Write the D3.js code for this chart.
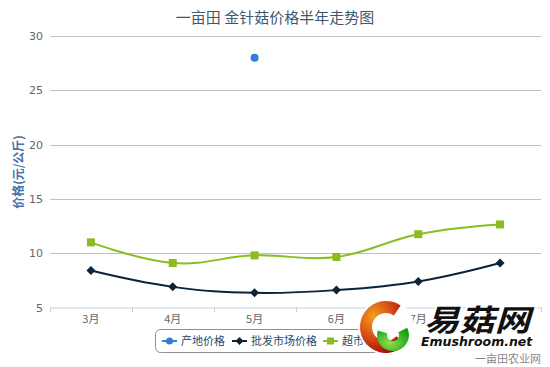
<!DOCTYPE html>
<html><head><meta charset="utf-8">
<script src="https://cdn.jsdelivr.net/npm/d3@7"></script>
<style>body{margin:0;background:#fff;}svg{display:block;font-family:"Noto Sans CJK SC","DejaVu Sans",sans-serif;}</style>
</head><body>
<svg id="c" width="550" height="367"></svg>
<script>
const months = ["3月","4月","5月","6月","7月","8月"];
const originPrice = [null,null,28,null,null,null];
const wholesalePrice = [8.4,6.9,6.35,6.6,7.4,9.1];
const supermarketPrice = [11,9.1,9.8,9.65,11.75,12.65];
const seriesNames = ["产地价格","批发市场价格","超市价格"];
const seriesColors = ["#2f7ed8","#0d233a","#8bbc21"];
const yTicks = [5,10,15,20,25,30];
const title = "一亩田 金针菇价格半年走势图";
const yTitle = "价格(元/公斤)";

const svg = d3.select("#c");
const defs = svg.append("defs");
const L=50, R=541, T=36, B=307.5;
const x = d3.scaleBand().domain(months).range([L,R]);
const y = d3.scaleLinear().domain([5,30]).range([B,T]);

svg.append("text").attr("x",275).attr("y",23).attr("text-anchor","middle")
  .attr("fill","#3e576f").attr("font-size",15).text(title);

// grid
svg.append("g").selectAll("line").data(yTicks.filter(d=>d>5)).join("line")
  .attr("x1",L).attr("x2",R).attr("y1",d=>Math.round(y(d))+0.5).attr("y2",d=>Math.round(y(d))+0.5)
  .attr("stroke","#c0c0c0").attr("stroke-width",1);
// y labels
svg.append("g").selectAll("text").data(yTicks).join("text")
  .attr("x",43).attr("y",d=>y(d)+4).attr("text-anchor","end")
  .attr("fill","#666").attr("font-size",11).attr("font-family","DejaVu Sans, sans-serif").text(d=>d);
// x axis
const xa = svg.append("g").attr("transform",`translate(0,${B})`)
  .call(d3.axisBottom(x).tickSize(0).tickPadding(8));
xa.select(".domain").attr("stroke","#c0d0e0");
xa.selectAll("text").attr("fill","#666").attr("font-size",11).attr("font-family","Noto Sans CJK SC, sans-serif");
svg.append("g").selectAll("line").data(d3.range(months.length+1)).join("line")
  .attr("x1",i=>Math.round(L+i*x.bandwidth())+0.5).attr("x2",i=>Math.round(L+i*x.bandwidth())+0.5)
  .attr("y1",B).attr("y2",B+5).attr("stroke","#c0d0e0");

// y title
svg.append("text").attr("transform",`translate(23,172) rotate(-90)`).attr("text-anchor","middle")
  .attr("fill","#4572a7").attr("font-size",12).attr("font-weight","bold").text(yTitle);

const cx = d=>x(d)+x.bandwidth()/2;
const line = d3.line().defined(d=>d[1]!=null).x(d=>cx(d[0])).y(d=>y(d[1])).curve(d3.curveCardinal.tension(-0.2));

const allSeries = [originPrice, wholesalePrice, supermarketPrice];
allSeries.forEach((vals,si)=>{
  const pts = months.map((m,i)=>[m,vals[i]]);
  svg.append("path").datum(pts).attr("d",line).attr("fill","none")
    .attr("stroke",seriesColors[si]).attr("stroke-width",2);
  const g = svg.append("g");
  pts.filter(p=>p[1]!=null).forEach(p=>{
    const px=cx(p[0]), py=y(p[1]);
    if(si===0) g.append("circle").attr("cx",px).attr("cy",py).attr("r",4).attr("fill",seriesColors[si]);
    else if(si===1) g.append("path").attr("d",`M${px},${py-4.5}L${px+4.5},${py}L${px},${py+4.5}L${px-4.5},${py}Z`).attr("fill",seriesColors[si]);
    else g.append("rect").attr("x",px-4).attr("y",py-4).attr("width",8).attr("height",8).attr("fill",seriesColors[si]);
  });
});

// legend
const lg = svg.append("g");
lg.append("rect").attr("x",155.5).attr("y",329.5).attr("width",240).attr("height",23).attr("rx",5)
  .attr("fill","#fff").attr("stroke","#909090");
const lx=[162,232,323];
seriesNames.forEach((n,i)=>{
  const gx=lx[i], gy=341;
  lg.append("line").attr("x1",gx).attr("x2",gx+15).attr("y1",gy).attr("y2",gy).attr("stroke",seriesColors[i]).attr("stroke-width",2);
  const mx=gx+7.5;
  if(i===0) lg.append("circle").attr("cx",mx).attr("cy",gy).attr("r",3.5).attr("fill",seriesColors[i]);
  else if(i===1) lg.append("path").attr("d",`M${mx},${gy-4}L${mx+4},${gy}L${mx},${gy+4}L${mx-4},${gy}Z`).attr("fill",seriesColors[i]);
  else lg.append("rect").attr("x",mx-3.5).attr("y",gy-3.5).attr("width",7).attr("height",7).attr("fill",seriesColors[i]);
  lg.append("text").attr("x",gx+19).attr("y",gy+4).attr("fill","#274b6d").attr("font-size",11).text(n);
});

// watermark logo
const wm = svg.append("g");
const grad = defs.append("radialGradient").attr("id","rg").attr("cx","30%").attr("cy","30%").attr("r","75%");
grad.append("stop").attr("offset","0%").attr("stop-color","#f0a020");
grad.append("stop").attr("offset","55%").attr("stop-color","#d84a12");
grad.append("stop").attr("offset","100%").attr("stop-color","#a01010");
const gg = defs.append("radialGradient").attr("id","gg").attr("cx","40%").attr("cy","65%").attr("r","70%");
gg.append("stop").attr("offset","0%").attr("stop-color","#90e050");
gg.append("stop").attr("offset","100%").attr("stop-color","#10a010");
wm.append("circle").attr("cx",386).attr("cy",327).attr("r",28).attr("fill","#fff").attr("opacity",0.9);
wm.append("path").attr("d",d3.arc().innerRadius(14).outerRadius(26).startAngle(2.3).endAngle(2*Math.PI+0.6)())
  .attr("transform","translate(386,327)").attr("fill","url(#rg)");
wm.append("path").attr("d",d3.arc().innerRadius(6).outerRadius(16).startAngle(1.1).endAngle(5.0)())
  .attr("transform","translate(393,335)").attr("fill","url(#gg)");
wm.append("text").attr("x",424).attr("y",331).attr("font-size",30).attr("font-weight","bold").attr("font-style","italic")
  .attr("textLength",106).attr("lengthAdjust","spacingAndGlyphs")
  .attr("fill","#111").attr("stroke","#fff").attr("stroke-width",4).attr("paint-order","stroke").text("易菇网");
wm.append("text").attr("x",421).attr("y",346).attr("font-size",12.5).attr("font-weight","bold").attr("font-style","italic")
  .attr("font-family","DejaVu Sans, sans-serif").attr("fill","#111").attr("stroke","#fff").attr("stroke-width",3).attr("paint-order","stroke").text("Emushroom.net");
svg.append("text").attr("x",541).attr("y",363).attr("text-anchor","end").attr("font-size",11).attr("fill","#888").text("一亩田农业网");
</script>
</body></html>
